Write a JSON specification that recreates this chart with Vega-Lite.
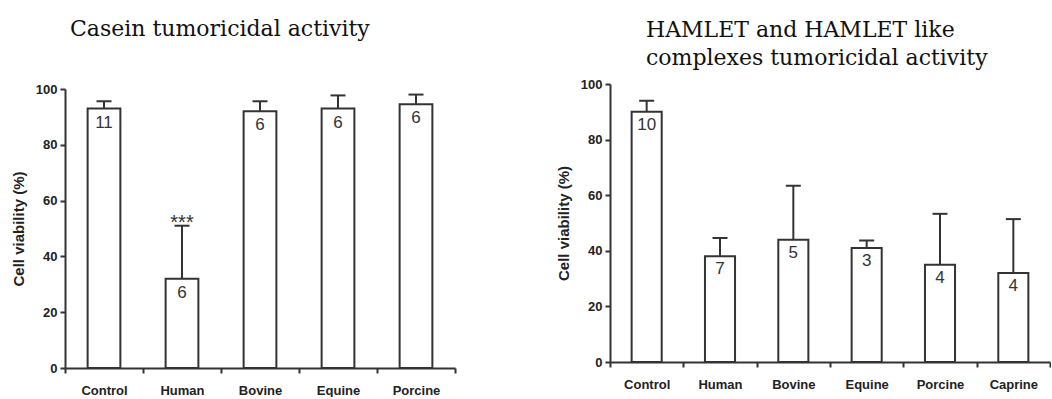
{
  "$schema": "https://vega.github.io/schema/vega-lite/v6.json",
  "background": "white",
  "padding": {"left": 11, "top": 17, "right": 0, "bottom": 0},
  "spacing": 100,
  "datasets": {
    "casein": [
      {"group": "Control", "mean": 93, "upper": 95.6, "n": "11", "sig": ""},
      {"group": "Human", "mean": 32, "upper": 51, "n": "6", "sig": "***"},
      {"group": "Bovine", "mean": 92, "upper": 95.6, "n": "6", "sig": ""},
      {"group": "Equine", "mean": 93, "upper": 97.7, "n": "6", "sig": ""},
      {"group": "Porcine", "mean": 94.5, "upper": 98, "n": "6", "sig": ""}
    ],
    "hamlet": [
      {"group": "Control", "mean": 90, "upper": 94, "n": "10"},
      {"group": "Human", "mean": 38, "upper": 44.6, "n": "7"},
      {"group": "Bovine", "mean": 44, "upper": 63.4, "n": "5"},
      {"group": "Equine", "mean": 41, "upper": 43.7, "n": "3"},
      {"group": "Porcine", "mean": 35, "upper": 53.3, "n": "4"},
      {"group": "Caprine", "mean": 32, "upper": 51.4, "n": "4"}
    ]
  },
  "hconcat": [
    {
      "width": 390,
      "height": 284,
      "title": {"text": "Casein tumoricidal activity", "anchor": "start", "frame": "group", "dx": 5, "offset": 41, "font": "DejaVu Serif", "fontSize": 22, "fontWeight": "normal", "color": "#111"},
      "data": {"name": "casein"},
      "encoding": {
        "x": {"field": "group", "type": "nominal", "sort": null, "title": null, "scale": {"paddingInner": 0, "paddingOuter": 0}}
      },
      "layer": [
        {
          "mark": {"type": "bar", "fill": "white", "stroke": "#333", "strokeWidth": 2, "width": {"band": 0.42}},
          "encoding": {"y": {"field": "mean", "type": "quantitative", "title": "Cell viability (%)", "scale": {"domain": [0, 100], "range": [284, 5], "nice": false, "zero": true}, "axis": {"values": [0, 20, 40, 60, 80, 100]}}}
        },
        {
          "mark": {"type": "rule", "stroke": "#333", "strokeWidth": 2},
          "encoding": {"y": {"field": "mean", "type": "quantitative", "title": "Cell viability (%)"}, "y2": {"field": "upper"}}
        },
        {
          "mark": {"type": "tick", "orient": "horizontal", "size": 15, "thickness": 2, "color": "#333", "opacity": 1},
          "encoding": {"y": {"field": "upper", "type": "quantitative", "title": "Cell viability (%)"}}
        },
        {
          "mark": {"type": "text", "baseline": "top", "dy": 6, "font": "Liberation Sans", "fontSize": 17, "color": "#333"},
          "encoding": {"y": {"field": "mean", "type": "quantitative", "title": "Cell viability (%)"}, "text": {"field": "n"}}
        },
        {
          "mark": {"type": "text", "baseline": "alphabetic", "dy": 3, "font": "Liberation Sans", "fontSize": 20, "color": "#333"},
          "encoding": {"y": {"field": "upper", "type": "quantitative", "title": "Cell viability (%)"}, "text": {"field": "sig"}}
        }
      ]
    },
    {
      "width": 440,
      "height": 278,
      "title": {"text": ["HAMLET and HAMLET like", "complexes tumoricidal activity"], "anchor": "start", "frame": "group", "dx": 36, "offset": 8, "lineHeight": 28, "font": "DejaVu Serif", "fontSize": 22, "fontWeight": "normal", "color": "#111"},
      "data": {"name": "hamlet"},
      "encoding": {
        "x": {"field": "group", "type": "nominal", "sort": null, "title": null, "scale": {"paddingInner": 0, "paddingOuter": 0}}
      },
      "layer": [
        {
          "mark": {"type": "bar", "fill": "white", "stroke": "#333", "strokeWidth": 2, "width": {"band": 0.41}},
          "encoding": {"y": {"field": "mean", "type": "quantitative", "title": "Cell viability (%)", "scale": {"domain": [0, 100], "nice": false, "zero": true}, "axis": {"values": [0, 20, 40, 60, 80, 100]}}}
        },
        {
          "mark": {"type": "rule", "stroke": "#333", "strokeWidth": 2},
          "encoding": {"y": {"field": "mean", "type": "quantitative", "title": "Cell viability (%)"}, "y2": {"field": "upper"}}
        },
        {
          "mark": {"type": "tick", "orient": "horizontal", "size": 15, "thickness": 2, "color": "#333", "opacity": 1},
          "encoding": {"y": {"field": "upper", "type": "quantitative", "title": "Cell viability (%)"}}
        },
        {
          "mark": {"type": "text", "baseline": "top", "dy": 5, "font": "Liberation Sans", "fontSize": 17, "color": "#333"},
          "encoding": {"y": {"field": "mean", "type": "quantitative", "title": "Cell viability (%)"}, "text": {"field": "n"}}
        }
      ]
    }
  ],
  "config": {
    "view": {"stroke": null},
    "axis": {
      "grid": false,
      "labelFont": "Liberation Sans", "labelFontWeight": "bold", "labelFontSize": 13, "labelColor": "#222",
      "titleFont": "Liberation Sans", "titleFontWeight": "bold", "titleFontSize": 15, "titleColor": "#222",
      "domainColor": "#333", "domainWidth": 2, "tickColor": "#333", "tickWidth": 2, "tickSize": 5
    },
    "axisX": {"labelAngle": 0, "tickBand": "extent", "labelPadding": 11},
    "axisY": {"labelPadding": 3, "titlePadding": 9}
  }
}
